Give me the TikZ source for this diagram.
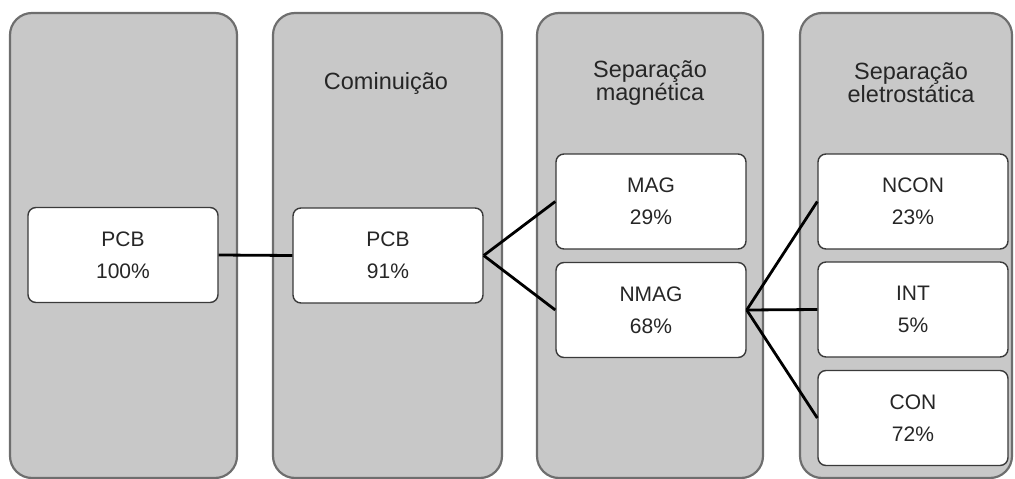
\documentclass[tikz,border=0pt]{standalone}
\usepackage{fontspec}
\setmainfont{Liberation Sans}
\definecolor{stagefill}{HTML}{C8C8C8}
\definecolor{stageline}{HTML}{6E6E6E}
\definecolor{boxline}{HTML}{3A3A3A}
\definecolor{textgray}{HTML}{262626}
\begin{document}
\begin{tikzpicture}[x=1pt, y=-1pt,
    stage/.style={fill=stagefill, draw=stageline, line width=2.2pt, rounded corners=22pt},
    stagetitle/.style={font=\fontsize{23.5}{22}\selectfont, text=textgray, align=center, inner sep=0pt},
    stream/.style={draw=boxline, fill=white, line width=1.4pt, rounded corners=8pt,
        minimum width=190pt, minimum height=95pt, inner sep=0pt,
        font=\fontsize{21}{32}\selectfont, text=textgray, align=center},
    link/.style={draw=black, line width=2.8pt}]
    \useasboundingbox (0,0) rectangle (1015,479);

    % Stages (gray columns)
    \draw[stage] (10,13) rectangle (237,478);
    \draw[stage] (273,13) rectangle (502,478);
    \draw[stage] (537,13) rectangle (763,478);
    \draw[stage] (800,13) rectangle (1012,478);

    % Stage titles
    \node[stagetitle] (tcom) at (386,83) {Cominuição};
    \node[stagetitle] (tmag) at (650,83) {Separação\\magnética};
    \node[stagetitle] (tele) at (911,83) {Separação\\eletrostática};

    % Material streams
    \node[stream] (pcbin) at (123,255) {PCB\\100\%};
    \node[stream] (pcb) at (388,255.5) {PCB\\91\%};
    \node[stream] (mag) at (651,201.5) {MAG\\29\%};
    \node[stream] (nmag) at (651,310) {NMAG\\68\%};
    \node[stream] (ncon) at (913,201.5) {NCON\\23\%};
    \node[stream] (int) at (913,309.5) {INT\\5\%};
    \node[stream] (con) at (913,418) {CON\\72\%};

    % Links between streams
    \draw[link] (pcbin.east) -- (pcb.west);
    \draw[link] (pcb.east) -- (mag.west);
    \draw[link] (pcb.east) -- (nmag.west);
    \foreach \out in {ncon,int,con}
        \draw[link] (nmag.east) -- (\out.west);
\end{tikzpicture}
\end{document}
